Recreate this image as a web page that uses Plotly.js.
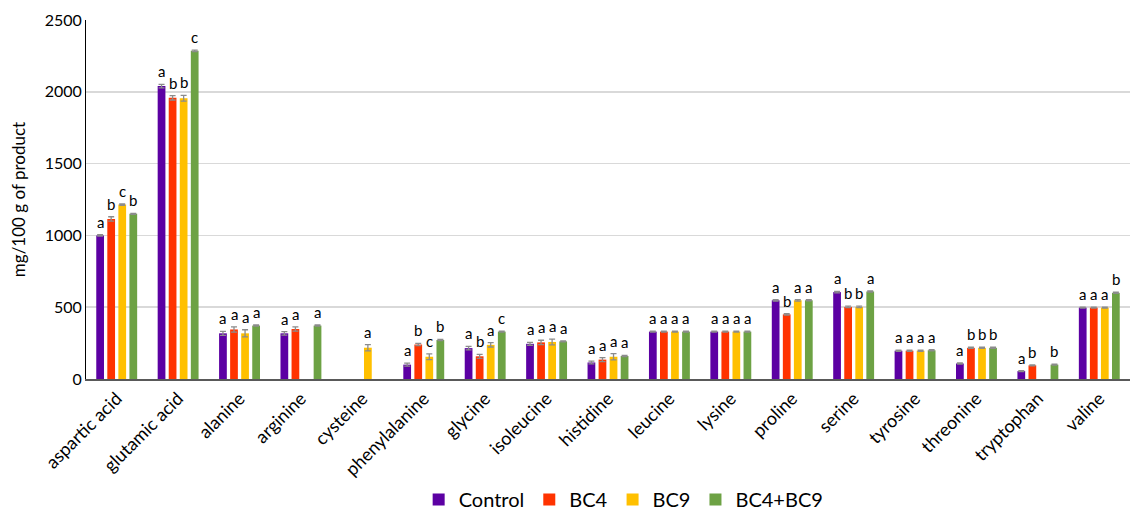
<!DOCTYPE html>
<html>
<head>
<meta charset="utf-8">
<script src="https://cdn.plot.ly/plotly-3.0.1.min.js"></script>
<style>html,body{margin:0;padding:0;background:#fff;}#chart{width:1132px;height:519px;}</style>
</head>
<body>
<div id="chart"></div>
<script>
const categories = ["aspartic acid","glutamic acid","alanine","arginine","cysteine","phenylalanine","glycine","isoleucine","histidine","leucine","lysine","proline","serine","tyrosine","threonine","tryptophan","valine"];
const seriesNames = ["Control","BC4","BC9","BC4+BC9"];
const control = [1000,2040,318,318,null,100,215,245,115,330,330,548,605,197,108,55,497];
const bc4     = [1115,1958,345,348,null,240,158,255,135,330,330,450,502,197,217,95,497];
const bc9     = [1215,1955,318,null,218,155,238,258,155,330,330,548,502,197,217,null,497];
const bc4bc9  = [1150,2285,372,372,null,272,330,262,160,330,330,548,610,200,217,100,600];
const errControl = [5,12,14,12,0,10,12,10,10,4,4,5,5,4,4,3,4];
const errBc4     = [15,15,18,15,0,8,14,15,14,4,4,5,5,4,4,3,4];
const errBc9     = [5,20,25,0,22,20,15,20,22,4,4,5,5,4,4,0,4];
const errBc4bc9  = [4,5,4,4,0,4,4,4,4,4,4,4,4,4,4,4,4];
const lettersControl = ["a","a","a","a","","a","a","a","a","a","a","a","a","a","a","a","a"];
const lettersBc4     = ["b","b","a","a","","b","b","a","a","a","a","b","b","a","b","b","a"];
const lettersBc9     = ["c","b","a","","a","c","a","a","a","a","a","a","b","a","b","","a"];
const lettersBc4bc9  = ["b","c","a","a","","b","c","a","a","a","a","a","a","a","b","b","b"];

const colors = ["#5C00A3","#FF3300","#FFC000","#6DA244"];
const values = [control,bc4,bc9,bc4bc9];
const errs = [errControl,errBc4,errBc9,errBc4bc9];
const letters = [lettersControl,lettersBc4,lettersBc9,lettersBc4bc9];

const W = 1132, H = 519;
const margin = {l:86, r:2, t:20, b:139};
const bargap = 0.28, bargroupgap = 0.3;
const catW = (W - margin.l - margin.r) / categories.length;
const slot = catW * (1 - bargap) / 4;

const font = "Lato, 'Open Sans', sans-serif";

const traces = values.map((v, i) => ({
  type: 'bar',
  name: seriesNames[i],
  x: categories,
  y: v,
  marker: {color: colors[i]},
  error_y: {type: 'data', array: errs[i], visible: true, color: '#8C8C8C', thickness: 1.3, width: 3},
  hoverinfo: 'x+y+name'
}));

const annotations = [];
values.forEach((v, i) => {
  v.forEach((val, j) => {
    if (val === null || !letters[i][j]) return;
    annotations.push({
      x: categories[j], y: val + errs[i][j], xref: 'x', yref: 'y',
      text: letters[i][j], showarrow: false, yanchor: 'bottom',
      xshift: (i - 1.5) * slot, yshift: 2,
      font: {family: font, size: 15, color: '#000'}
    });
  });
});

const layout = {
  width: W, height: H,
  margin: margin,
  paper_bgcolor: '#fff', plot_bgcolor: '#fff',
  barmode: 'group', bargap: bargap, bargroupgap: bargroupgap,
  font: {family: font, color: '#000'},
  xaxis: {
    tickangle: -45, tickfont: {family: font, size: 18, color: '#000'},
    showline: true, linecolor: '#595959', linewidth: 2, ticks: '', showgrid: false,
    automargin: false
  },
  yaxis: {
    range: [0, 2500], dtick: 500, tickfont: {family: font, size: 16, color: '#000'},
    showgrid: true, gridcolor: '#D9D9D9', gridwidth: 1.5,
    showline: true, linecolor: '#000', linewidth: 1, ticks: '', zeroline: false,
    automargin: false,
    title: {text: 'mg/100 g of product', font: {family: font, size: 17, color: '#000'}, standoff: 14}
  },
  legend: {
    orientation: 'h', x: 0.515, xanchor: 'center', y: -0.386, yanchor: 'bottom',
    font: {family: font, size: 20, color: '#000'}, itemwidth: 30, traceorder: 'normal',
    tracegroupgap: 0
  },
  annotations: annotations,
  showlegend: true
};

Plotly.newPlot('chart', traces, layout, {displayModeBar: false, staticPlot: true});
</script>
</body>
</html>
